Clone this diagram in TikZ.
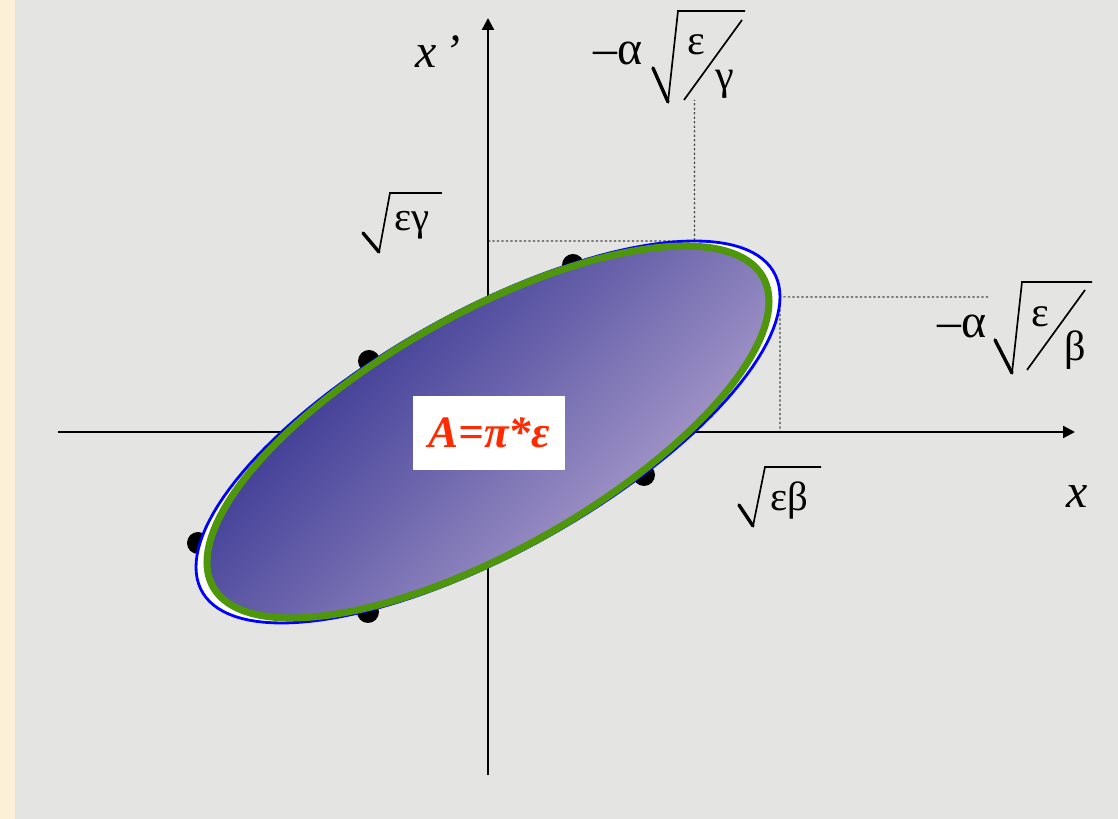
\RequirePackage{fix-cm}
\documentclass[tikz,border=0pt]{standalone}
\usepackage{fontspec}
\setmainfont{Liberation Serif}
\newfontfamily\timesfont{Liberation Serif}
\usetikzlibrary{arrows.meta}
\definecolor{slidegray}{HTML}{E4E4E2}
\definecolor{parchment}{HTML}{FCF1D8}
\definecolor{beamblue}{HTML}{0000FF}
\definecolor{rimgreen}{HTML}{4E960A}
\definecolor{deepblue}{HTML}{28288A}
\definecolor{lilac}{HTML}{B9AAD3}
\definecolor{areared}{HTML}{FF2A00}
\definecolor{guidegray}{HTML}{444444}

\newcommand{\lblfont}{\timesfont\fontsize{29}{34}\selectfont}
\newcommand{\fracfont}{\timesfont\fontsize{30}{35}\selectfont}
\newcommand{\bigfont}{\timesfont\fontsize{34}{40}\selectfont}
\newcommand{\radix}[4]{%
  \draw[line width=2.4pt, line cap=round] #1 -- #2;
  \draw[line width=1.2pt, line join=miter] #2 -- #3 -- #4;}

\begin{document}
\begin{tikzpicture}[>={Triangle[length=8.5pt, width=8.5pt]}, x=0.025cm, y=0.025cm,
  guide/.style={guidegray, line width=0.8pt, dash pattern=on 1.6pt off 1.6pt},
  lbl/.style={inner sep=0pt}]

% Background
\fill[slidegray] (-488,-387) rectangle (630,432);
\fill[parchment] (-488,-387) rectangle (-473,432);

% Extreme points of the ellipse
\coordinate (top) at ({292*cos(45)},191);
\coordinate (right) at (292,{191*cos(45)});
\draw[guide] (0,191) -- (top) -- (206.5,332);
\draw[guide] (500,135) -- (right) -- (292,0);

% Axes
\coordinate (xfrom) at (-430,0);
\coordinate (xto) at (587,0);
\coordinate (yfrom) at (0,-343);
\coordinate (yto) at (0,414);
\draw[line width=1.6pt, ->] (xfrom) -- (xto);
\draw[line width=1.6pt, ->] (yfrom) -- (yto);

% Particles
\foreach \px/\py in {85/167, -119/71, -290/-111, -120/-180, 156/-43}
  \fill (\px,\py) circle (11);

% Emittance ellipse
\filldraw[draw=beamblue, fill=white, line width=2pt] plot[domain=0:360, samples=145] ({292*cos(\x)}, {191*cos(\x-45)}) -- cycle;
\shadedraw[shading=axis, top color=deepblue, bottom color=lilac, shading angle=45, draw=rimgreen, line width=5pt] plot[domain=0:360, samples=145] ({281*cos(\x)}, {186*cos(\x-45.5)}) -- cycle;

% Axis names
\node[lbl, font=\bigfont\itshape] (xname) at (589,-65) {x};
\node[lbl, font=\bigfont\itshape] (xpname) at (-50,380) {x\,’};

% sqrt(eps gamma)
\node[lbl, font=\lblfont] (epsgamma) at (-76,207) {εγ};
\radix{(-125,199)}{(-109,180)}{(-98,239)}{(-46,239)}

% sqrt(eps beta)
\node[lbl, font=\lblfont] (epsbeta) at (301,-68) {εβ};
\radix{(251,-73)}{(265,-94)}{(277,-35)}{(333,-35)}

% -alpha sqrt(eps/gamma)
\node[lbl, font=\bigfont, anchor=base] (alphag) at (130,367) {–α};
\radix{(165,364)}{(180,330)}{(190,421)}{(257,421)}
\draw[line width=1.2pt] (196,332) -- (254,412);
\node[lbl, font=\fracfont] (epsg) at (208,387) {ε};
\node[lbl, font=\fracfont] (gam) at (237,348) {γ};

% -alpha sqrt(eps/beta)
\node[lbl, font=\bigfont, anchor=base] (alphab) at (474,94) {–α};
\radix{(507,92)}{(524,59)}{(534,150)}{(604,150)}
\draw[line width=1.2pt] (539,62) -- (597,142);
\node[lbl, font=\fracfont] (epsb) at (552,115) {ε};
\node[lbl, font=\fracfont] (bet) at (587,82) {β};

% Area
\node[fill=white, text=areared, minimum width=3.8cm, minimum height=1.825cm, inner sep=0pt, font=\timesfont\fontsize{32}{38}\selectfont\bfseries\itshape] (area) at (1,-1) {A=π*ε};

\end{tikzpicture}
\end{document}
